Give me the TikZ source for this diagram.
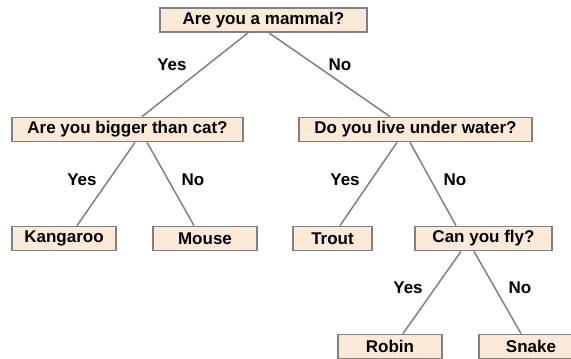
\documentclass[tikz,border=0pt]{standalone}
\usepackage{fontspec}
\setmainfont{Liberation Sans}
\definecolor{boxfill}{RGB}{253,233,216}
\definecolor{boxline}{RGB}{128,128,128}
\definecolor{edgeline}{RGB}{128,128,128}
\begin{document}
\begin{tikzpicture}[x=1pt,y=-1pt,
  qbox/.style={draw=boxline, line width=1.8pt, fill=boxfill, inner sep=0pt,
    minimum height=24pt, font=\fontsize{17}{19}\selectfont\bfseries, anchor=center},
  edge/.style={draw=edgeline, line width=1.5pt},
  answer/.style={font=\fontsize{17}{19}\selectfont\bfseries, inner sep=0pt}]
  \useasboundingbox (0,0) rectangle (571,359);

  % question and answer boxes
  \node[qbox, minimum width=207pt] (root)  at (263.5,20)  {Are you a mammal?};
  \node[qbox, minimum width=231pt] (big)   at (127.5,129.5) {Are you bigger than cat?};
  \node[qbox, minimum width=233pt] (water) at (415.5,129.5) {Do you live under water?};
  \node[qbox, minimum width=104pt] (kang)  at (64,238.5)  {Kangaroo};
  \node[qbox, minimum width=104pt] (mouse) at (205,238.5) {Mouse};
  \node[qbox, minimum width=79pt]  (trout) at (332.5,238.5) {Trout};
  \node[qbox, minimum width=137pt] (fly)   at (483.5,238.5) {Can you fly?};
  \node[qbox, minimum width=104pt] (robin) at (390,346.5) {Robin};
  \node[qbox, minimum width=104pt] (snake) at (531,346.5) {Snake};

  % branches
  \draw[edge] ([xshift=-15.5pt]root.south) -- ([xshift=14.5pt]big.north);
  \draw[edge] ([xshift=5.5pt]root.south)   -- ([xshift=-25.5pt]water.north);
  \draw[edge] ([xshift=7.5pt]big.south)    -- ([xshift=13pt]kang.north);
  \draw[edge] ([xshift=19.5pt]big.south)   -- ([xshift=-11pt]mouse.north);
  \draw[edge] ([xshift=-18.5pt]water.south) -- ([xshift=7.5pt]trout.north);
  \draw[edge] ([xshift=-5.5pt]water.south)  -- ([xshift=-27.5pt]fly.north);
  \draw[edge] ([xshift=-22.5pt]fly.south)   -- ([xshift=13pt]robin.north);
  \draw[edge] ([xshift=-9.5pt]fly.south)    -- ([xshift=-10pt]snake.north);

  % branch labels
  \node[answer] (y1) at (172,65)  {Yes};
  \node[answer] (n1) at (340,65)  {No};
  \node[answer] (y2) at (82,180)  {Yes};
  \node[answer] (n2) at (193,180) {No};
  \node[answer] (y3) at (345,180) {Yes};
  \node[answer] (n3) at (455,180) {No};
  \node[answer] (y4) at (408,288) {Yes};
  \node[answer] (n4) at (520,288) {No};
\end{tikzpicture}
\end{document}
